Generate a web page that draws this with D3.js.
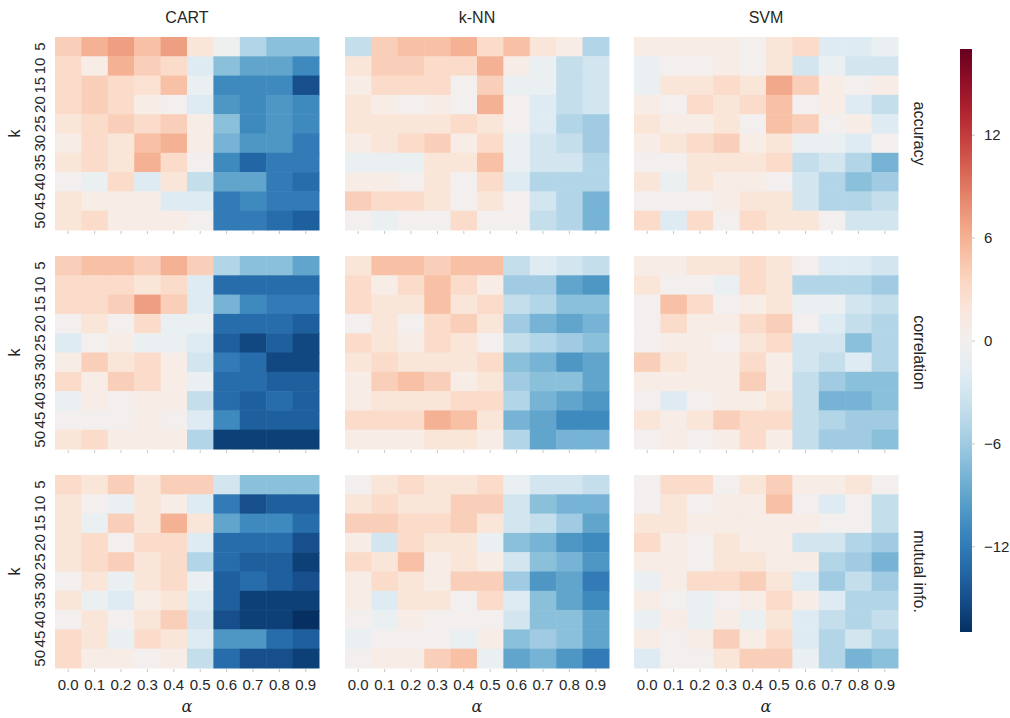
<!DOCTYPE html>
<html>
<head>
<meta charset="utf-8">
<script src="https://cdn.jsdelivr.net/npm/d3@7"></script>
<style>
  body { margin: 0; background: #fff; }
  svg text { font-family: "Liberation Sans", Arial, sans-serif; fill: #262626; }
</style>
</head>
<body>
<div id="chart"></div>
<script>
// heatmap grid: classifier (columns) x criterion (rows), k vs alpha

var methods = ["CART", "k-NN", "SVM"];
var criteria = ["accuracy", "correlation", "mutual info."];
var kValues = [5, 10, 15, 20, 25, 30, 35, 40, 45, 50];
var alphaValues = ["0.0", "0.1", "0.2", "0.3", "0.4", "0.5", "0.6", "0.7", "0.8", "0.9"];
var colorTicks = [-12, -6, 0, 6, 12];

// rows = k, cols = alpha
var cartAccuracy = [
  [4, 6, 7, 5, 7, 2, -0.5, -5, -7, -7],
  [3, 1, 6, 4, 3, -2, -7, -9, -9, -11],
  [3, 4, 3, 2.5, 5, -1, -11, -11, -11, -15],
  [3, 4, 3, 1, 0, -2, -10, -11, -10, -11],
  [2, 3, 4, 3, 4, 1, -7, -11, -10, -11],
  [1, 3, 2, 5, 6, 1, -8, -10, -10, -12],
  [2, 3, 2, 6, 3, 0, -11, -13.5, -12, -12],
  [0, -1, 3, -2, 2, -4, -9, -9, -12, -13],
  [2, 1, 1, 1, -2, -2, -12, -11, -12, -12],
  [2, 3, 1, 1, 1, 0, -12, -12, -13, -14]
];
var knnAccuracy = [
  [-4, 4, 5, 5, 6, 3, 5, 2, 1, -5],
  [2, 4, 4, 3, 3, 6, 1, -1, -4, -3],
  [1, 3, 3, 3, 0, 4, -1, -1, -4, -3],
  [2, 1, 0, 1, 0, 6, 0, -2, -4, -3],
  [2, 2, 2, 2, 3, 2, 0, -2, -5, -6],
  [1, 2, 3, 4, 1, 3, -1, -3, -4, -6],
  [-1, -1, -1, 2, 2, 5, -1, -3, -3, -5],
  [1, 1, 0, 2, 0, 3, -2, -5, -5, -5],
  [4, 3, 3, 2, 0, 2, 0, -3, -5, -8],
  [0, -1, 0, 0, 3, 0, 0, -4, -5, -8]
];
var svmAccuracy = [
  [1, 1, 1, 1, 0, 2, 3, -2, -2, -1],
  [-1, 0, 0, 1, 0, 2, -3, -1, -3, -3],
  [-1, 2, 2, 3, 2, 6.5, 4, 1, 0, 1],
  [1, 0, 3, 2, 3, 5, 0, 1, -2, -4],
  [2, 1, 1, 2, 0, 5, 4, 0, 1, -2],
  [1, 2, 3, 4, 1, 2, -1, -1, -2, 0],
  [0, 0, 2, 2, 2, 3, -4, -3, -5, -8],
  [2, -1, 2, 1, 1, 0, -3, -5, -7, -6],
  [0, 0, 0, 1, 2, 2, -3, -5, -5, -4],
  [3, -2, 3, 0, 3, 2, 2, 0, -3, -3]
];
var cartCorrelation = [
  [4, 5, 5, 4, 6, 4, -5, -7, -7, -9],
  [3, 3, 3, 2, 3, -2, -13, -13, -13, -13],
  [3, 3, 4, 7, 4, -2, -8, -11, -12, -12],
  [0, 2, 0, 3, -1, -1, -13, -13, -13, -14],
  [-2, 0, 1, -1, -1, -2, -14, -15.5, -14, -15.5],
  [1, 4, 2, 3, 1, -3, -12, -13, -15.5, -15.5],
  [3, 1, 4, 3, 1, -1, -13, -13, -14, -14],
  [-1, 1, 0, 1, 1, -4, -13, -14, -13, -14],
  [0, 0, 0, 1, 0, -2, -11, -14, -14, -14],
  [2, 3, 1, 1, 1, -5, -16, -16, -16, -16]
];
var knnCorrelation = [
  [2, 5, 5, 4, 5, 5, -4, -2, -3, -4],
  [3, 1, 3, 5, 3, 1, -6, -6, -9, -10],
  [3, 2, 2, 5, 2, 3, -4, -5, -7, -7],
  [0, 2, 0, 3, 4, 2, -6, -8, -9, -8],
  [3, 2, 1, 3, 2, 0, -4, -5, -6, -7],
  [2, 3, 2, 2, 2, 3, -7, -8, -10, -9],
  [1, 4, 5, 4, 1, 2, -6, -7, -7, -9],
  [1, 2, 2, 2, 3, 3, -5, -8, -9, -10],
  [3, 3, 3, 6, 5, 2, -8, -9, -11, -11],
  [1, 1, 1, 2, 2, 1, -5, -9, -8, -8]
];
var svmCorrelation = [
  [1, 1, 2, 2, 3, 2, 0, -2, -2, -3],
  [2, 0, 0, -1, 3, 2, -5, -5, -5, -6],
  [0, 5, 3, 0, 1, 2, -1, -1, -3, -4],
  [0, 3, 1, 1, 3, 4, 0, -2, -4, -5],
  [0, 1, 1, 0, 2, 3, -3, -3, -7, -5],
  [4, 2, 1, 1, 3, 1, -3, -4, -2, -5],
  [1, 1, 1, 1, 4, 1, -4, -6, -7, -7],
  [0, -2, 0, 1, 1, 2, -4, -8, -8, -7],
  [2, 1, 2, 4, 3, 3, -4, -5, -6, -6],
  [0, 1, 0, 1, 3, 1, -4, -6, -6, -7]
];
var cartMutualInfo = [
  [3, 2, 4, 2, 4, 4, -3, -7, -7, -7],
  [2, 0, -1, 2, 1, -2, -12, -15, -14, -14],
  [2, -1, 4, 2, 6, 2, -9, -11, -11, -13],
  [2, 3, 0, 3, 3, -2, -13, -13, -13, -15],
  [2, 3, 4, 2, 3, -5, -13, -14, -14, -16],
  [0, 2, -1, 2, 3, -1, -14, -13, -14, -15],
  [2, -1, -2, 1, 2, -2, -14, -16, -16, -16],
  [0, 2, 0, 2, 4, -3, -15, -16, -16, -17],
  [3, 2, -1, 3, 2, -2, -10, -10, -13, -14],
  [3, 1, 1, 0, 1, -4, -13, -15, -15, -16]
];
var knnMutualInfo = [
  [0, 2, 3, 2, 2, 3, -1, -3, -3, -4],
  [2, 3, 2, 2, 4, 4, -3, -7, -8, -8],
  [4, 4, 3, 3, 4, 2, -3, -4, -6, -9],
  [1, -3, 3, 2, 2, -1, -7, -8, -10, -11],
  [3, 2, 5, 1, 2, 1, -3, -7, -8, -10],
  [1, 3, 2, 1, 4, 4, -6, -10, -9, -12],
  [1, -2, 2, 2, 0, 3, -2, -7, -9, -11],
  [0, -1, 1, 0, 0, 0, -3, -7, -7, -9],
  [-1, 0, 0, 0, -1, 1, -7, -6, -7, -9],
  [0, 1, 1, 4, 5, -1, -9, -8, -10, -12]
];
var svmMutualInfo = [
  [0, 3, 3, 0, 2, 4, 1, 1, 2, 0],
  [0, 2, 0, 1, 1, 5, 0, -2, 0, -4],
  [2, 2, 1, 1, 1, 1, 1, 0, 0, -4],
  [3, 1, 0, 2, 1, 1, -3, -3, -5, -6],
  [1, 1, 0, 2, 2, 1, 1, -5, -6, -8],
  [-1, 1, 3, 3, 4, 2, -2, -6, -4, -6],
  [1, 0, -1, 0, 1, 3, 1, -2, -5, -5],
  [-1, 1, -1, 1, -1, 2, -2, -4, -5, -4],
  [1, 0, 1, 4, 1, 3, -2, -5, -3, -5],
  [-2, 0, 0, 2, 4, 4, -1, -5, -8, -7]
];

var grid = [
  [cartAccuracy, knnAccuracy, svmAccuracy],
  [cartCorrelation, knnCorrelation, svmCorrelation],
  [cartMutualInfo, knnMutualInfo, svmMutualInfo]
];

var width = 1010, height = 718;
var panelW = 264, panelH = 193;
var panelX = [55, 345, 634];
var panelY = [37, 256, 475];
var vmax = 17;

var color = d3.scaleSequential(d3.interpolateRdBu).domain([vmax, -vmax]);

var svg = d3.select("#chart").append("svg")
    .attr("width", width)
    .attr("height", height);

var x = d3.scaleBand().domain(alphaValues).range([0, panelW]);
var y = d3.scaleBand().domain(kValues).range([0, panelH]);

criteria.forEach(function(crit, r) {
  methods.forEach(function(m, c) {
    var g = svg.append("g")
        .attr("transform", "translate(" + panelX[c] + "," + panelY[r] + ")");

    var cells = [];
    grid[r][c].forEach(function(row, i) {
      row.forEach(function(v, j) {
        cells.push({k: kValues[i], a: alphaValues[j], v: v});
      });
    });

    g.selectAll("rect")
      .data(cells)
      .enter().append("rect")
      .attr("x", function(d) { return x(d.a); })
      .attr("y", function(d) { return y(d.k); })
      .attr("width", x.bandwidth() + 0.5)
      .attr("height", y.bandwidth() + 0.5)
      .attr("fill", function(d) { return color(d.v); });

    // little tick marks under every panel
    g.selectAll("line.xt")
      .data(alphaValues)
      .enter().append("line")
      .attr("class", "xt")
      .attr("x1", function(d) { return x(d) + x.bandwidth() / 2; })
      .attr("x2", function(d) { return x(d) + x.bandwidth() / 2; })
      .attr("y1", panelH + 1)
      .attr("y2", panelH + 4)
      .attr("stroke", "#c8c8c8")
      .attr("stroke-width", 1);

    if (r === 0) {
      svg.append("text")
        .attr("x", panelX[c] + panelW / 2)
        .attr("y", 23)
        .attr("text-anchor", "middle")
        .attr("font-size", 16)
        .text(m);
    }

    if (r === 2) {
      g.selectAll("text.xl")
        .data(alphaValues)
        .enter().append("text")
        .attr("class", "xl")
        .attr("x", function(d) { return x(d) + x.bandwidth() / 2; })
        .attr("y", panelH + 22)
        .attr("text-anchor", "middle")
        .attr("font-size", 15)
        .text(function(d) { return d; });

      svg.append("text")
        .attr("x", panelX[c] + panelW / 2)
        .attr("y", 712)
        .attr("text-anchor", "middle")
        .attr("font-style", "italic")
        .attr("font-size", 16)
        .style("font-family", "'DejaVu Serif', serif")
        .text("α");
    }

    if (c === 0) {
      g.selectAll("text.yl")
        .data(kValues)
        .enter().append("text")
        .attr("class", "yl")
        .attr("transform", function(d) {
          return "translate(-10," + (y(d) + y.bandwidth() / 2) + ") rotate(-90)";
        })
        .attr("text-anchor", "middle")
        .attr("font-size", 15)
        .text(function(d) { return d; });

      svg.append("text")
        .attr("transform", "translate(20," + (panelY[r] + panelH / 2) + ") rotate(-90)")
        .attr("text-anchor", "middle")
        .attr("font-size", 16)
        .text("k");
    }

    if (c === 2) {
      svg.append("text")
        .attr("transform", "translate(914," + (panelY[r] + panelH / 2) + ") rotate(90)")
        .attr("text-anchor", "middle")
        .attr("font-size", 16)
        .text(crit);
    }
  });
});

// colorbar
var cbX = 960, cbW = 12, cbTop = 49, cbBot = 632;
var defs = svg.append("defs");
var grad = defs.append("linearGradient")
    .attr("id", "cbGrad")
    .attr("x1", 0).attr("y1", 1).attr("x2", 0).attr("y2", 0);
d3.range(0, 1.0001, 0.05).forEach(function(t) {
  grad.append("stop")
    .attr("offset", t)
    .attr("stop-color", color(-vmax + t * 2 * vmax));
});

svg.append("rect")
  .attr("x", cbX)
  .attr("y", cbTop)
  .attr("width", cbW)
  .attr("height", cbBot - cbTop)
  .attr("fill", "url(#cbGrad)");

var cbScale = d3.scaleLinear().domain([-vmax, vmax]).range([cbBot, cbTop]);
var cbAxis = svg.append("g")
    .attr("transform", "translate(" + (cbX + cbW) + ",0)")
    .call(d3.axisRight(cbScale).tickValues(colorTicks).tickSize(3).tickPadding(9));
cbAxis.select(".domain").remove();
cbAxis.selectAll(".tick line").attr("stroke", "#c8c8c8");
cbAxis.selectAll(".tick text")
  .attr("font-size", 15)
  .attr("font-family", "'Liberation Sans', Arial, sans-serif")
  .attr("fill", "#262626");
</script>
</body>
</html>
